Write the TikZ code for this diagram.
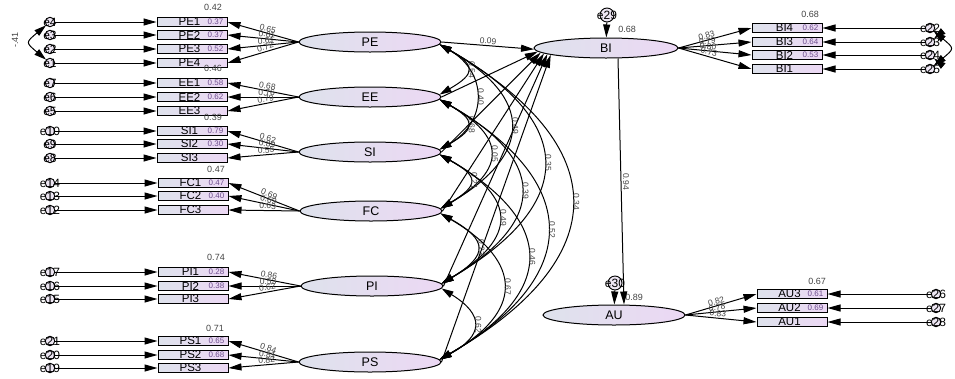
\documentclass[tikz,border=0pt]{standalone}
\usepackage{fontspec}
\setmainfont{Liberation Sans}
\usetikzlibrary{arrows.meta,shapes.geometric}

\definecolor{shadeL}{HTML}{DEE2EC}
\definecolor{shadeR}{HTML}{ECD8F4}
\definecolor{numgray}{HTML}{444444}
\definecolor{innum}{HTML}{6C4C8C}
\definecolor{errfill}{HTML}{EDE6F3}

% observed variable: box plus its name
\newcommand\mkobs[4]{%
  \node[obsbox] (#1) at (#2,#3) {};
  \node[obslabel] (#1-t) at ([xshift=-2.5pt]#1.center) {#4};}
% error term: small circle with its name on top
\newcommand\mkerr[4]{%
  \node[errc] (#1) at (#2,#3) {};
  \node[errlabel] (#1-t) at (#1.center) {#4};}

\tikzset{
  fs/.style={font=\fontsize{#1}{#1}\selectfont},
  latent/.style={ellipse, draw, line width=1pt, left color=shadeL, right color=shadeR,
    minimum width=142pt, minimum height=20pt, inner sep=0pt, fs=12.5},
  obsbox/.style={rectangle, draw, line width=1pt, left color=shadeL, right color=shadeR,
    minimum width=70pt, minimum height=9.5pt, inner sep=0pt},
  obslabel/.style={fs=11.5, inner sep=0pt},
  errc/.style={circle, draw, line width=0.9pt, fill=errfill, minimum size=9.5pt, inner sep=0pt},
  errlabel/.style={fs=12, inner sep=0pt},
  smc/.style={fs=9, text=numgray, inner sep=0pt},
  smcin/.style={fs=8, text=innum, inner sep=0pt},
  wt/.style={fs=8.5, text=numgray, inner sep=1pt},
  covlab/.style={fs=8.5, text=numgray, inner sep=1.5pt, rotate=-90, anchor=south, pos=0.5},
  path/.style={line width=1pt, -{Triangle[length=13pt,width=7pt]}},
  cov/.style={line width=1pt, {Triangle[length=12pt,width=7pt]}-{Triangle[length=12pt,width=7pt]}},
  arc/.style={bend left=60, looseness=#1},
}

\begin{document}
\begin{tikzpicture}[x=1pt,y=-1pt]
\useasboundingbox (0,0) rectangle (955,378);
\fill[white] (0,0) rectangle (955,378);

% latent variables
\node[latent] (PE) at (370,42) {PE};
\node[latent] (EE) at (370,97) {EE};
\node[latent] (SI) at (370,152) {SI};
\node[latent] (FC) at (371,211) {FC};
\node[latent] (PI) at (372,286) {PI};
\node[latent] (PS) at (370,362) {PS};
\node[latent, minimum width=144pt] (BI) at (606,48) {BI};
\node[latent] (AU) at (614,315) {AU};

% indicators on the left
\mkobs{PE1}{192}{22}{PE1}
\mkobs{PE2}{192}{35}{PE2}
\mkobs{PE3}{192}{49}{PE3}
\mkobs{PE4}{192}{63}{PE4}
\mkobs{EE1}{192}{83}{EE1}
\mkobs{EE2}{192}{97}{EE2}
\mkobs{EE3}{192}{111}{EE3}
\mkobs{SI1}{192}{131}{SI1}
\mkobs{SI2}{192}{144}{SI2}
\mkobs{SI3}{192}{158}{SI3}
\mkobs{FC1}{193}{183}{FC1}
\mkobs{FC2}{193}{196}{FC2}
\mkobs{FC3}{193}{210}{FC3}
\mkobs{PI1}{193}{272}{PI1}
\mkobs{PI2}{193}{286}{PI2}
\mkobs{PI3}{193}{299}{PI3}
\mkobs{PS1}{193}{341}{PS1}
\mkobs{PS2}{193}{355}{PS2}
\mkobs{PS3}{193}{368}{PS3}

% indicators on the right
\mkobs{BI4}{787}{28}{BI4}
\mkobs{BI3}{787}{42}{BI3}
\mkobs{BI2}{787}{55}{BI2}
\mkobs{BI1}{787}{69}{BI1}
\mkobs{AU3}{792}{294}{AU3}
\mkobs{AU2}{792}{308}{AU2}
\mkobs{AU1}{792}{322}{AU1}

% squared multiple correlations
\node[smc] (PE1-r) at (213,7) {0.42};
\node[smc] (EE1-r) at (213,68) {0.46};
\node[smc] (SI1-r) at (213,117) {0.39};
\node[smc] (FC1-r) at (216,169) {0.47};
\node[smc] (PI1-r) at (216,257) {0.74};
\node[smc] (PS1-r) at (215,328) {0.71};
\node[smc] (BI4-r) at (810,14) {0.68};
\node[smc] (AU3-r) at (817,281) {0.67};
\node[smc] (BI-r) at (627,29) {0.68};
\node[smc] (AU-r) at (634,297) {0.89};

\node[smcin] (PE2-r) at ([xshift=-12pt]PE1.east) {0.37};
\node[smcin] (PE3-r) at ([xshift=-12pt]PE2.east) {0.37};
\node[smcin] (PE4-r) at ([xshift=-12pt]PE3.east) {0.52};
\node[smcin] (EE2-r) at ([xshift=-12pt]EE1.east) {0.58};
\node[smcin] (EE3-r) at ([xshift=-12pt]EE2.east) {0.62};
\node[smcin] (SI2-r) at ([xshift=-12pt]SI1.east) {0.79};
\node[smcin] (SI3-r) at ([xshift=-12pt]SI2.east) {0.30};
\node[smcin] (FC2-r) at ([xshift=-12pt]FC1.east) {0.47};
\node[smcin] (FC3-r) at ([xshift=-12pt]FC2.east) {0.40};
\node[smcin] (PI2-r) at ([xshift=-12pt]PI1.east) {0.28};
\node[smcin] (PI3-r) at ([xshift=-12pt]PI2.east) {0.38};
\node[smcin] (PS2-r) at ([xshift=-12pt]PS1.east) {0.65};
\node[smcin] (PS3-r) at ([xshift=-12pt]PS2.east) {0.68};
\node[smcin] (BI3-r) at ([xshift=-12pt]BI4.east) {0.62};
\node[smcin] (BI2-r) at ([xshift=-12pt]BI3.east) {0.64};
\node[smcin] (BI1-r) at ([xshift=-12pt]BI2.east) {0.53};
\node[smcin] (AU2-r) at ([xshift=-12pt]AU3.east) {0.61};
\node[smcin] (AU1-r) at ([xshift=-12pt]AU2.east) {0.69};

% error terms
\mkerr{e4}{50}{22}{e4}
\mkerr{e3}{50}{35}{e3}
\mkerr{e2}{50}{49}{e2}
\mkerr{e1}{50}{63}{e1}
\mkerr{e7}{50}{83}{e7}
\mkerr{e6}{50}{97}{e6}
\mkerr{e5}{50}{111}{e5}
\mkerr{e10}{50}{131}{e10}
\mkerr{e9}{50}{144}{e9}
\mkerr{e8}{50}{158}{e8}
\mkerr{e14}{50}{183}{e14}
\mkerr{e13}{50}{196}{e13}
\mkerr{e12}{50}{210}{e12}
\mkerr{e17}{50}{272}{e17}
\mkerr{e16}{50}{286}{e16}
\mkerr{e15}{50}{299}{e15}
\mkerr{e21}{50}{341}{e21}
\mkerr{e20}{50}{355}{e20}
\mkerr{e19}{50}{368}{e19}
\mkerr{e22}{930}{28}{e22}
\mkerr{e23}{930}{42}{e23}
\mkerr{e24}{930}{55}{e24}
\mkerr{e25}{930}{69}{e25}
\mkerr{e26}{936}{294}{e26}
\mkerr{e27}{936}{308}{e27}
\mkerr{e28}{936}{322}{e28}
\node[errc, minimum size=14pt] (e29) at (607,15) {};
\node[errlabel] (e29-t) at (e29.center) {e29};
\node[errc, minimum size=14pt] (e30) at (615,283) {};
\node[errlabel] (e30-t) at (e30.center) {e30};

% error arrows
\foreach \e/\b in {e4/PE1,e3/PE2,e2/PE3,e1/PE4,e7/EE1,e6/EE2,e5/EE3,
  e10/SI1,e9/SI2,e8/SI3,e14/FC1,e13/FC2,e12/FC3,e17/PI1,e16/PI2,e15/PI3,
  e21/PS1,e20/PS2,e19/PS3,e22/BI4,e23/BI3,e24/BI2,e25/BI1,e26/AU3,e27/AU2,e28/AU1}
  \draw[path] (\e) -- (\b);
\draw[path] (e29) -- (BI);
\draw[path] (e30) -- (AU);

% error covariances
\draw[cov] (e4) to[bend right=50, looseness=2] (e1);
\node[smc, rotate=90] (cv41) at (15,40) {-.41};
\draw[cov] (e22) to[bend left=50, looseness=2] (e23);
\draw[cov] (e24) to[bend left=50, looseness=2] (e25);
\draw[cov] (e22) to[bend left=50, looseness=2] (e25);

% factor loadings
\draw[path] (PE.west) -- node[wt,sloped,above,pos=0.45]{0.65} (PE1.east);
\draw[path] (PE.west) -- node[wt,sloped,above,pos=0.45]{0.61} (PE2.east);
\draw[path] (PE.west) -- node[wt,sloped,above,pos=0.45]{0.61} (PE3.east);
\draw[path] (PE.west) -- node[wt,sloped,above,pos=0.45]{0.72} (PE4.east);
\draw[path] (EE.west) -- node[wt,sloped,above,pos=0.45]{0.68} (EE1.east);
\draw[path] (EE.west) -- node[wt,sloped,above,pos=0.45]{0.76} (EE2.east);
\draw[path] (EE.west) -- node[wt,sloped,above,pos=0.45]{0.79} (EE3.east);
\draw[path] (SI.west) -- node[wt,sloped,above,pos=0.45]{0.62} (SI1.east);
\draw[path] (SI.west) -- node[wt,sloped,above,pos=0.45]{0.89} (SI2.east);
\draw[path] (SI.west) -- node[wt,sloped,above,pos=0.45]{0.55} (SI3.east);
\draw[path] (FC.west) -- node[wt,sloped,above,pos=0.45]{0.69} (FC1.east);
\draw[path] (FC.west) -- node[wt,sloped,above,pos=0.45]{0.69} (FC2.east);
\draw[path] (FC.west) -- node[wt,sloped,above,pos=0.45]{0.63} (FC3.east);
\draw[path] (PI.west) -- node[wt,sloped,above,pos=0.45]{0.86} (PI1.east);
\draw[path] (PI.west) -- node[wt,sloped,above,pos=0.45]{0.53} (PI2.east);
\draw[path] (PI.west) -- node[wt,sloped,above,pos=0.45]{0.62} (PI3.east);
\draw[path] (PS.west) -- node[wt,sloped,above,pos=0.45]{0.84} (PS1.east);
\draw[path] (PS.west) -- node[wt,sloped,above,pos=0.45]{0.81} (PS2.east);
\draw[path] (PS.west) -- node[wt,sloped,above,pos=0.45]{0.82} (PS3.east);
\draw[path] (BI.east) -- node[wt,sloped,above,pos=0.4]{0.83} (BI4.west);
\draw[path] (BI.east) -- node[wt,sloped,above,pos=0.4]{0.79} (BI3.west);
\draw[path] (BI.east) -- node[wt,sloped,above,pos=0.4]{0.80} (BI2.west);
\draw[path] (BI.east) -- node[wt,sloped,above,pos=0.4]{0.73} (BI1.west);
\draw[path] (AU.east) -- node[wt,sloped,above,pos=0.45]{0.82} (AU3.west);
\draw[path] (AU.east) -- node[wt,sloped,above,pos=0.45]{0.78} (AU2.west);
\draw[path] (AU.east) -- node[wt,sloped,above,pos=0.45]{0.83} (AU1.west);

% covariances among the exogenous factors
\draw[cov] (PE.358) to[arc=2.14] node[covlab]{0.54} (EE.2);
\draw[cov] (PE.358) to[arc=1.36] node[covlab]{0.40} (SI.2);
\draw[cov] (PE.358) to[arc=1.68] node[covlab]{0.49} (FC.2);
\draw[cov] (PE.358) to[arc=1.69] node[covlab]{0.35} (PI.2);
\draw[cov] (PE.358) to[arc=1.65] node[covlab]{0.34} (PS.2);
\draw[cov] (EE.358) to[arc=2.14] node[covlab]{0.68} (SI.2);
\draw[cov] (EE.358) to[arc=1.79] node[covlab]{0.05} (FC.2);
\draw[cov] (EE.358) to[arc=1.71] node[covlab]{0.39} (PI.2);
\draw[cov] (EE.358) to[arc=1.63] node[covlab]{0.52} (PS.2);
\draw[cov] (SI.358) to[arc=2.13] node[covlab]{0.21} (FC.2);
\draw[cov] (SI.358) to[arc=1.76] node[covlab]{0.49} (PI.2);
\draw[cov] (SI.358) to[arc=1.69] node[covlab]{0.46} (PS.2);
\draw[cov] (FC.358) to[arc=1.99] node[covlab]{0.23} (PI.2);
\draw[cov] (FC.358) to[arc=1.69] node[covlab]{0.67} (PS.2);
\draw[cov] (PI.358) to[arc=1.81] node[covlab]{0.62} (PS.2);

% structural paths
\draw[path] (PE.east) -- node[wt,sloped,above]{0.09} (BI.181);
\draw[path] (EE.east) -- (BI.183);
\draw[path] (SI.east) -- (BI.184);
\draw[path] (FC.east) -- (BI.185);
\draw[path] (PI.east) -- (BI.186);
\draw[path] (PS.east) -- (BI.187);
\draw[path] ([xshift=12pt]BI.south) -- node[covlab]{0.94} ([xshift=10pt]AU.north);
\end{tikzpicture}
\end{document}
